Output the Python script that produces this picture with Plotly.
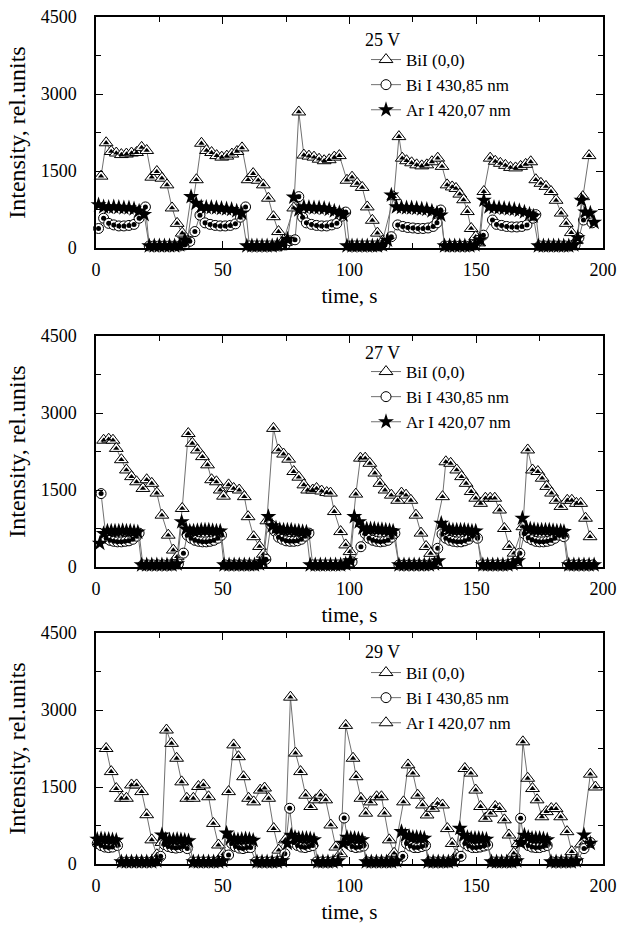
import plotly.graph_objects as go

# ---------------- data ----------------
panel_labels = ["25 V", "27 V", "29 V"]
series_names = ["BiI (0,0)", "Bi I 430,85 nm", "Ar I 420,07 nm"]
x_ticks = [0, 50, 100, 150, 200]
y_ticks = [0, 1500, 3000, 4500]

# Panel 1 (25 V)
p1_tri_t = [2,4,6,8,10,12,14,16,18,20,22,24,26,28,30,32,34,36,
            39.6,41.6,43.6,45.6,47.6,49.6,51.6,53.6,55.6,57.6,60,62,64,66,68,70,72,74,
            78,80,82,84,86,88,90,92,94,96,99,101,103,105,107,109,111,113,
            117.5,119.5,120.8,122.5,124.5,126.5,128.5,130.5,132.5,134.8,136.5,138.5,140.5,142,143.5,145,146.5,148,149.8,151,
            153,155.5,157.5,159.5,161.5,163.5,165.5,167.5,169.5,171.5,173.5,175.5,177.5,179.5,181.5,183.5,185.5,187.5,189.5,
            192,194.5]
p1_tri_v = [1400,2050,1880,1850,1820,1830,1850,1860,1960,1900,1380,1490,1360,1230,780,480,290,130,
            1330,2040,1900,1860,1800,1770,1790,1830,1880,1950,1330,1450,1320,1230,970,610,320,150,
            780,2650,1810,1790,1770,1730,1700,1720,1770,1800,1320,1380,1260,1180,800,540,290,130,
            1000,2170,1750,1700,1660,1620,1600,1620,1680,1750,1590,1230,1190,1160,1050,940,710,380,220,100,
            1100,1750,1690,1650,1610,1570,1560,1590,1630,1680,1330,1260,1200,1100,930,680,480,300,150,
            1000,1800]
p1_circ_t = [1,3,5,7,9,11,13,15,17,19.5,21,23,25,27,29,31,33,35,37,
             39,41,43,45,47,49,51,53,55,57,59,60.5,62.5,64.5,66.5,68.5,70.5,72.5,74.5,76.5,
             78.5,80,81.5,83,85,87,89,91,93,95,97,98.5,100,102,104,106,108,110,112,114,
             116.5,119,121,123,125,127,129,131,133,134.5,136,137.5,139.5,141.5,143.5,145.5,147.5,149.5,151,
             152.8,156.4,158,160,162,164,166,168,170,172.4,173.5,175,177,179,181,183,185,187,189,190.5,
             192.3,195.7]
p1_circ_v = [380,580,480,450,430,430,440,460,580,800,40,40,40,40,40,40,40,60,130,
             320,640,490,460,440,430,430,440,470,600,800,40,40,40,40,40,40,40,60,140,
             160,1000,600,490,460,440,430,430,450,480,620,700,40,40,40,40,40,40,40,60,
             220,450,420,400,390,380,380,390,420,490,740,40,40,40,40,40,40,60,150,
             250,545,460,440,420,410,410,420,450,580,650,40,40,40,40,40,40,40,60,200,
             545,490]
p1_star_t = [1,3,5,7,9,11,13,15,17,19,21,23,25,27,29,31,33,35,
             37.5,39.5,41.5,43.5,45.5,47.5,49.5,51.5,53.5,55.5,57.5,59.5,61.5,63.5,65.5,67.5,69.5,71.5,73.5,75.5,
             78,80,82,84,86,88,90,92,94,96,97.5,99,101,103,105,107,109,111,113,115,
             116.5,118.5,120.5,122.5,124.5,126.5,128.5,130.5,132.5,134.5,136,137.5,139.5,141.5,143.5,145.5,147.5,149.5,151.5,
             153,155,157,159,161,163,165,167,169,171,172.5,174.5,176.5,178.5,180.5,182.5,184.5,186.5,188.5,190,
             191.5,193,195,196.5]
p1_star_v = [840,800,790,800,790,780,780,760,720,650,40,40,40,40,40,40,60,160,
             1000,870,800,790,790,780,770,760,750,720,680,40,40,40,40,40,40,60,80,170,
             990,740,800,790,780,780,770,750,720,690,640,40,40,40,40,40,40,40,60,150,
             1030,800,790,780,780,770,760,750,720,680,640,40,40,40,40,40,40,60,160,
             930,800,790,780,770,760,750,730,700,660,620,40,40,40,40,40,40,40,60,200,
             930,700,680,500]

# Panel 2 (27 V)
p2_tri_t = [3,5,6.7,8,10,12,14,16,18.5,20,22,24,26,28.5,30.5,32,
            34,36.4,38,40,42,44,45.6,47.5,49,50.3,52.3,54.3,56.5,58.5,60,62.2,64.5,66,
            67.4,70,72,74,76,78,80,82,83.5,85.5,87,89,91,92.5,94,96.5,98.5,100.2,
            102.5,104.3,106.2,108,110,112,114,116.5,119,120.5,122.3,124.2,126.2,128.2,130.2,132,
            136.7,138,139.9,142.3,144.2,146,148,149.8,151.7,153.6,155.5,157.3,159.2,161.1,163,164.9,
            168.4,170.3,172.2,174.3,176,177.8,179.7,181.5,183.4,185.9,187.7,189.5,191.2,193.1,194.9]
p2_tri_v = [2470,2490,2470,2310,2090,1890,1760,1660,1530,1700,1630,1440,1010,620,330,200,
            1140,2600,2410,2280,2150,1990,1700,1660,1500,1380,1600,1530,1500,1370,980,590,400,250,
            900,2700,2280,2200,2100,1860,1750,1600,1500,1500,1530,1480,1450,1440,1080,690,430,300,
            1420,2120,2120,2020,1830,1630,1500,1400,1300,1440,1400,1300,1010,660,400,266,
            1370,2050,2020,1890,1760,1630,1470,1340,1240,1340,1340,1340,1110,750,400,270,
            785,2280,1890,1860,1730,1570,1440,1300,1180,1300,1300,1240,1240,950,590]
p2_circ_t = [2,4,5.5,7,8.5,10,11.5,13,14.5,16,17,18.5,20.5,22.5,24.5,26.5,28.5,30.5,32.5,
             34.5,36,37.5,39,40.5,42,43.5,45,46.5,48,49.5,51,53,55,57,59,61,63,65,67,
             69,70.5,72,73.5,75,76.5,78,79.5,81,82.5,84,85.5,87.5,89.5,91.5,93.5,95.5,97.5,99.5,101,
             104.5,106.2,107.7,109.2,110.7,112.2,113.7,115.2,116.7,117.9,119.5,121.5,123.5,125.5,127.5,129.5,131.5,133.5,
             134.8,136.5,138,139.5,141,142.5,144,145.5,147,148.5,150.5,152,154,156,158,160,162,164,166,
             167.2,169,170.5,172,173.5,175,176.5,178,179.5,181,182.7,184.6,186,188,190,192,194,196]
p2_circ_v = [1430,560,520,500,490,490,500,510,540,600,660,40,40,40,40,40,40,40,60,
             270,620,560,520,500,490,490,500,520,560,620,40,40,40,40,40,40,40,60,150,
             820,700,580,540,510,500,500,510,540,600,660,40,40,40,40,40,40,40,60,100,
             395,650,560,520,500,490,500,520,580,656,40,40,40,40,40,40,40,60,
             364,640,560,520,500,490,490,510,540,600,560,40,40,40,40,40,40,60,120,
             266,650,570,530,500,490,490,500,520,560,620,590,40,40,40,40,40,40]
p2_star_t = [1.5,3,4.5,6,7.5,9,10.5,12,13.5,15,16.5,18,20,22,24,26,28,30,32,
             33.8,35.5,37,38.5,40,41.5,43,44.5,46,47.5,49,50.5,52.5,54.5,56.5,58.5,60.5,62.5,64.5,66,
             68,69.5,71,72.5,74,75.5,77,78.5,80,81.5,83,84.5,86.5,88.5,90.5,92.5,94.5,96.5,98.5,100.3,
             101.9,103.8,105.3,106.8,108.3,109.8,111.3,112.8,114.3,115.8,117.2,119.5,121.5,123.5,125.5,127.5,129.5,131.5,133.5,135,
             136.2,137.8,139.3,140.8,142.3,143.8,145.3,146.8,148.3,149.8,152.6,154.5,156.5,158.5,160.5,162.5,164.5,166.5,
             168.2,169.8,171.3,172.8,174.3,175.8,177.3,178.8,180.3,181.8,183.3,184.6,186.5,188.5,190.5,192.5,194.5,196.5]
p2_star_v = [460,650,700,700,700,700,710,700,700,690,680,40,40,40,40,40,40,40,60,
             880,740,700,700,710,720,720,720,710,700,700,40,40,40,40,40,40,40,60,100,
             980,800,760,730,720,720,720,700,700,690,680,40,40,40,40,40,40,40,60,120,
             980,880,760,740,740,740,730,730,720,710,700,40,40,40,40,40,40,40,60,120,
             850,760,730,720,720,720,720,710,700,700,40,40,40,40,40,40,60,120,
             950,760,740,730,720,720,720,720,710,700,700,690,40,40,40,40,40,40]

# Panel 3 (29 V)
p3_tri_t = [4,6,8,10,12,14,16,18,20,22,24,26,
            27.8,29.8,31.8,33.8,35.8,38.4,40.4,42.4,44.4,46.3,48.3,50.3,
            52.3,54.3,56.2,58.2,60.2,62.2,64.8,66.5,68.1,70.1,72.1,
            74.7,76.7,78.7,80.7,82.7,84.7,86.7,88.6,90.6,92.6,94.6,96.5,
            98.5,101.4,102.6,104.5,106.4,108.3,110.7,112.6,113.8,115.7,117.6,
            121.3,123.1,125,126.9,128.8,130.6,132.8,134.7,136.7,138.6,140.5,142.3,
            145.5,147.9,149.8,151.7,153.6,155.6,157.5,159.2,161.1,162.9,164.8,
            166.5,168.4,170.3,172.2,174,175.9,177.7,179.6,181.5,183.3,185.8,187.7,
            191.5,195,197]
p3_tri_v = [2250,1800,1470,1280,1280,1540,1540,1410,960,470,180,420,
            2610,2350,2060,1600,1280,1280,1510,1540,1310,790,370,200,
            1410,2320,2090,1700,1280,1210,1440,1480,1280,690,270,
            470,3250,2160,1800,1340,1120,1250,1340,1250,760,330,200,
            2700,2060,1700,1280,990,1210,1310,1310,990,470,210,
            1210,1930,1770,1340,1150,955,1085,1180,1150,690,400,175,
            1860,1770,1440,1120,890,990,1120,1080,860,565,210,
            400,2380,1670,1470,1250,920,1020,1080,1080,920,630,240,
            390,1750,1500]
p3_circ_t = [0.5,2,3.5,5,6.5,8.5,10,12,14,16,18,20,22,24,25.5,27,28.5,30,31.5,33,34.5,36,38,40,42,44,46,48,50,
             52.3,53.5,55,56.5,58,59.5,61,63,65,67,69,71,73,
             74.5,76.4,78,79.5,81,82.5,84,85.5,87,89,91,93,95,
             97.9,99.5,101,102.5,104,105.5,107,109,111,113,115,117,119,
             121,122.5,124,125.5,127,128.5,130,131.5,133.5,135.5,137.5,139.5,141.5,
             144,145.5,147,148.5,150,151.5,153,154.5,156.5,158.5,160.5,162.5,164.5,166,
             167.5,169,170.5,172,173.5,175,176.5,178,180,182,184,186,188,190,
             192.5,195]
p3_circ_v = [400,360,330,320,330,360,40,40,40,40,40,40,40,60,150,380,340,320,310,320,340,300,40,40,40,40,40,40,60,
             175,400,340,310,300,320,320,40,40,40,40,40,60,
             200,1085,420,360,330,320,340,360,40,40,40,40,60,
             896,400,340,320,330,350,40,40,40,40,40,40,60,
             150,400,350,320,320,340,360,40,40,40,40,40,60,
             150,400,350,320,320,330,350,370,40,40,40,40,40,60,
             890,420,360,330,320,320,340,360,40,40,40,40,40,60,
             300,420]
p3_star_t = [0.5,2,3.5,5,6.5,8,10,12,14,16,18,20,22,24,26,27.5,29,30.5,32,33.5,35,36.5,38.4,40.4,42.4,44.4,46.4,48.4,50,
             51.5,53,54.5,56,57.5,59,60.5,62,63.5,65.5,67.5,69.5,71.5,73.5,
             75.5,77,78.5,80,81.5,83,84.5,86,87.5,89.5,91.5,93.5,95.5,
             97.5,99,100.5,102,103.5,105,106.6,108.6,110.6,112.6,114.6,116.6,118.6,
             120.5,122,123.5,125,126.5,128,129.5,131,133,135,137,139,141,
             143.5,145,146.5,148,149.5,151,152.5,154,156,158,160,162,164,166,
             167.5,169,170.5,172,173.5,175,176.5,178,179.5,181.5,183.5,185.5,187.5,189.5,
             192.5,195]
p3_star_v = [480,490,480,480,470,460,40,40,40,40,40,40,40,60,565,480,470,470,480,470,460,450,40,40,40,40,40,40,60,
             600,500,480,470,480,490,480,460,40,40,40,40,40,60,
             400,560,520,500,500,500,490,470,40,40,40,40,60,
             400,520,500,500,490,470,40,40,40,40,40,40,60,
             630,560,540,520,520,510,500,40,40,40,40,40,60,
             693,560,520,500,500,500,490,480,40,40,40,40,40,60,
             420,560,520,500,500,500,490,470,40,40,40,40,40,60,
             565,400]

panels = [
    (p1_tri_t, p1_tri_v, p1_circ_t, p1_circ_v, p1_star_t, p1_star_v),
    (p2_tri_t, p2_tri_v, p2_circ_t, p2_circ_v, p2_star_t, p2_star_v),
    (p3_tri_t, p3_tri_v, p3_circ_t, p3_circ_v, p3_star_t, p3_star_v),
]
for p in panels:
    assert len(p[0]) == len(p[1]), (len(p[0]), len(p[1]))
    assert len(p[2]) == len(p[3]), (len(p[2]), len(p[3]))
    assert len(p[4]) == len(p[5]), (len(p[4]), len(p[5]))

# ---------------- styling ----------------
FONT = "Liberation Serif"
W, H = 639, 927
ML, MR, MT, MB = 96, 36, 17, 63
PW, PH = W - ML - MR, H - MT - MB

boxes = [(17, 248), (336, 567), (633, 864)]
def py(p):
    return (H - MB - p) / PH
def px(p):
    return (p - ML) / PW

LINE = dict(color="#707070", width=1)
tri_marker = dict(symbol="triangle-up", size=12, color="white", line=dict(color="black", width=1))
tri_inner = dict(symbol="triangle-up", size=5.5, color="black", line=dict(width=0))
circ_marker = dict(symbol="circle", size=10, color="white", line=dict(color="black", width=1))
circ_inner = dict(symbol="circle", size=5, color="black", line=dict(width=0))
star_marker = dict(symbol="star", size=12, color="black", line=dict(color="black", width=0))

fig = go.Figure()
legend_names = ["legend", "legend2", "legend3"]
for i, (tt, tv, ct, cv, st, sv) in enumerate(panels):
    xa = "x" if i == 0 else f"x{i+1}"
    ya = "y" if i == 0 else f"y{i+1}"
    lg = legend_names[i]
    fig.add_trace(go.Scatter(x=tt, y=tv, mode="lines+markers", name=series_names[0],
                             line=LINE, marker=tri_marker, xaxis=xa, yaxis=ya,
                             legend=lg, cliponaxis=False))
    fig.add_trace(go.Scatter(x=tt, y=tv, mode="markers", name=series_names[0],
                             marker=tri_inner, xaxis=xa, yaxis=ya,
                             showlegend=False, cliponaxis=False, hoverinfo="skip"))
    fig.add_trace(go.Scatter(x=ct, y=cv, mode="lines+markers", name=series_names[1],
                             line=LINE, marker=circ_marker, xaxis=xa, yaxis=ya,
                             legend=lg, cliponaxis=False))
    fig.add_trace(go.Scatter(x=ct, y=cv, mode="markers", name=series_names[1],
                             marker=circ_inner, xaxis=xa, yaxis=ya,
                             showlegend=False, cliponaxis=False, hoverinfo="skip"))
    if i < 2:
        fig.add_trace(go.Scatter(x=st, y=sv, mode="lines+markers", name=series_names[2],
                                 line=LINE, marker=star_marker, xaxis=xa, yaxis=ya,
                                 legend=lg, cliponaxis=False))
    else:
        # the original's third legend entry in this panel shows a triangle symbol
        fig.add_trace(go.Scatter(x=st, y=sv, mode="lines+markers", name=series_names[2],
                                 line=LINE, marker=star_marker, xaxis=xa, yaxis=ya,
                                 showlegend=False, cliponaxis=False))
        fig.add_trace(go.Scatter(x=[None], y=[None], mode="lines+markers", name=series_names[2],
                                 line=LINE, marker=tri_marker, xaxis=xa, yaxis=ya,
                                 legend=lg))

axis_common = dict(showline=True, linecolor="black", linewidth=1.5, mirror="allticks",
                   ticks="inside", ticklen=7, tickwidth=1.2, tickcolor="black",
                   showgrid=False, zeroline=False, automargin=False,
                   tickfont=dict(family=FONT, size=18, color="black"))

layout = dict(width=W, height=H, margin=dict(l=ML, r=MR, t=MT, b=MB, autoexpand=False),
              paper_bgcolor="white", plot_bgcolor="white",
              font=dict(family=FONT, color="black"), annotations=[])

legend_tops = [42, 354, 655]
label_y = [40, 353, 652]
for i, (top, bot) in enumerate(boxes):
    sfx = "" if i == 0 else str(i + 1)
    layout["xaxis" + sfx] = dict(axis_common, range=[0, 200], tickvals=x_ticks,
                                 ticktext=[str(v) for v in x_ticks],
                                 anchor="y" + sfx, domain=[0, 1],
                                 ticklabelstandoff=5,
                                 minor=dict(tickvals=[25, 75, 125, 175], ticks="inside",
                                            ticklen=5, tickcolor="black", tickwidth=1.2),
                                 title=dict(text="time, s", standoff=9,
                                            font=dict(family=FONT, size=21, color="black")))
    layout["yaxis" + sfx] = dict(axis_common, range=[0, 4500], tickvals=y_ticks,
                                 ticktext=[str(v) for v in y_ticks],
                                 anchor="x" + sfx, domain=[py(bot), py(top)],
                                 ticklabelstandoff=14,
                                 minor=dict(tickvals=[750, 2250, 3750], ticks="inside",
                                            ticklen=5, tickcolor="black", tickwidth=1.2),
                                 title=dict(text="Intensity, rel.units", standoff=8,
                                            font=dict(family=FONT, size=24, color="black")))
    layout[legend_names[i]] = dict(x=px(366), y=py(legend_tops[i]), xanchor="left", yanchor="top",
                                   bgcolor="rgba(0,0,0,0)", borderwidth=0,
                                   font=dict(family=FONT, size=17, color="black"),
                                   tracegroupgap=0, itemwidth=30)
    layout["annotations"].append(dict(text=panel_labels[i], x=px(363), y=py(label_y[i]),
                                      xref="paper", yref="paper", xanchor="left", yanchor="middle",
                                      showarrow=False, font=dict(family=FONT, size=18, color="black")))

fig.update_layout(**layout)
fig.write_html("out.html", config={"displayModeBar": False},
               post_script="document.body.style.margin='0';document.body.style.padding='0';")
